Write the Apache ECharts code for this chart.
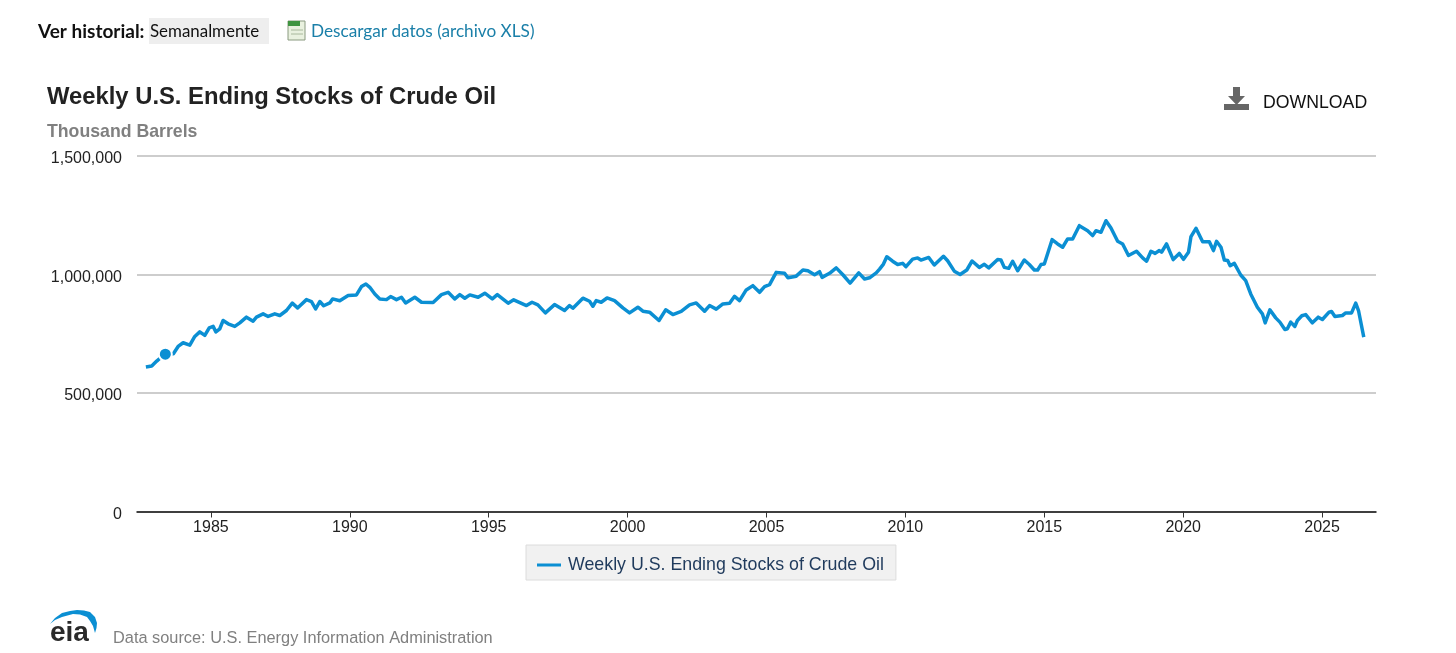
<!DOCTYPE html>
<html><head><meta charset="utf-8">
<style>html,body{margin:0;padding:0;background:#fff}#c{width:1456px;height:653px}</style>
<script src="https://cdn.jsdelivr.net/npm/echarts@6/dist/echarts.min.js"></script>
</head><body><div id="c"></div>
<script>
const seriesName = 'Weekly U.S. Ending Stocks of Crude Oil';
const years = [1982.66,1982.87,1983.05,1983.19,1983.36,1983.65,1983.82,1984.0,1984.24,1984.42,1984.6,1984.78,1984.94,1985.08,1985.18,1985.32,1985.44,1985.62,1985.86,1986.04,1986.28,1986.52,1986.64,1986.88,1987.06,1987.3,1987.48,1987.72,1987.93,1988.12,1988.44,1988.62,1988.77,1988.92,1989.06,1989.28,1989.38,1989.64,1989.94,1990.24,1990.42,1990.58,1990.72,1990.9,1991.08,1991.32,1991.47,1991.68,1991.86,1992.01,1992.34,1992.58,1993.0,1993.3,1993.54,1993.78,1993.96,1994.14,1994.32,1994.62,1994.86,1995.13,1995.31,1995.7,1995.9,1996.36,1996.56,1996.77,1997.04,1997.37,1997.73,1997.91,1998.03,1998.39,1998.63,1998.75,1998.87,1999.05,1999.26,1999.53,1999.83,2000.07,2000.37,2000.55,2000.79,2001.13,2001.37,2001.63,2001.93,2002.23,2002.47,2002.77,2002.95,2003.19,2003.43,2003.67,2003.85,2004.03,2004.27,2004.51,2004.75,2004.93,2005.11,2005.35,2005.65,2005.77,2006.07,2006.31,2006.49,2006.73,2006.91,2007.0,2007.27,2007.51,2007.75,2008.01,2008.32,2008.53,2008.71,2008.95,2009.07,2009.21,2009.33,2009.54,2009.72,2009.9,2010.02,2010.26,2010.44,2010.56,2010.84,2011.04,2011.37,2011.52,2011.76,2011.97,2012.21,2012.4,2012.66,2012.84,2013.0,2013.32,2013.44,2013.56,2013.72,2013.86,2014.04,2014.28,2014.46,2014.64,2014.76,2014.88,2015.0,2015.28,2015.48,2015.66,2015.84,2016.02,2016.26,2016.56,2016.74,2016.86,2017.04,2017.22,2017.4,2017.64,2017.82,2018.03,2018.32,2018.54,2018.68,2018.84,2018.99,2019.14,2019.22,2019.4,2019.64,2019.86,2020.01,2020.19,2020.28,2020.46,2020.52,2020.7,2020.94,2021.09,2021.2,2021.36,2021.48,2021.6,2021.69,2021.84,2022.07,2022.25,2022.43,2022.67,2022.85,2022.95,2023.12,2023.33,2023.48,2023.66,2023.75,2023.87,2024.02,2024.11,2024.27,2024.41,2024.65,2024.86,2025.01,2025.25,2025.34,2025.46,2025.73,2025.85,2026.06,2026.21,2026.31,2026.5];
const stocks = [609600,613800,634800,648800,664000,665700,696500,712000,702000,738600,758000,743000,775000,781000,758000,771000,806000,792000,781000,796000,820000,803000,820000,834000,823000,834000,827000,848000,879000,859000,894000,886000,855000,886000,868000,880000,897000,889000,911000,914000,949000,960000,946000,918000,897000,894000,907000,894000,904000,880000,904000,883000,882000,915000,925000,897000,915000,900000,914000,904000,921000,897000,915000,879000,893000,869000,883000,872000,838000,873000,848000,869000,858000,900000,887000,866000,890000,883000,901000,890000,859000,838000,862000,845000,841000,806000,851000,831000,844000,872000,880000,845000,869000,854000,876000,879000,908000,890000,935000,953000,925000,949000,957000,1009000,1005000,986000,993000,1019000,1016000,999000,1012000,988000,1005000,1028000,999000,964000,1007000,981000,986000,1007000,1023000,1044000,1075000,1056000,1042000,1047000,1033000,1065000,1070000,1061000,1072000,1040000,1077000,1058000,1014000,1000000,1019000,1057000,1030000,1043000,1028000,1063000,1061000,1030000,1026000,1056000,1016000,1061000,1042000,1019000,1019000,1042000,1044000,1147000,1129000,1115000,1150000,1150000,1206000,1185000,1164000,1185000,1178000,1227000,1196000,1140000,1129000,1080000,1098000,1070000,1056000,1098000,1089000,1101000,1094000,1129000,1063000,1089000,1064000,1094000,1160000,1195000,1192000,1138000,1138000,1101000,1140000,1115000,1061000,1059000,1037000,1047000,998000,974000,918000,862000,834000,796000,851000,817000,799000,768000,771000,799000,781000,806000,826000,831000,796000,820000,810000,841000,844000,823000,827000,838000,838000,879000,848000,736000];
const xTicks = [1985,1990,1995,2000,2005,2010,2015,2020,2025];
const yTicks = [0,500000,1000000,1500000];
const highlightIndex = 4;
const BLUE = '#0b8fd3';
const SANS = '"Liberation Sans", Arial, sans-serif';
const HEAD = 'Lato, sans-serif';

const chart = echarts.init(document.getElementById('c'), null, {renderer:'canvas'});
chart.setOption({
  animation:false,
  backgroundColor:'#fff',
  title:{left:47,top:85,padding:0,text:'Weekly U.S. Ending Stocks of Crude Oil',
    textStyle:{fontFamily:SANS,fontSize:23.8,fontWeight:'bold',color:'#222'},
    subtext:'Thousand Barrels',itemGap:14,
    subtextStyle:{fontFamily:SANS,fontSize:17.7,fontWeight:'bold',color:'#808080'}},
  grid:{left:137,right:80,top:156,bottom:141.5},
  xAxis:{type:'value',min:1982.34,max:2026.94,
    splitLine:{show:false},
    axisLine:{show:true,lineStyle:{color:'#111',width:1.5}},
    axisTick:{show:true,length:6,lineStyle:{color:'#333',width:1},customValues:xTicks},
    axisLabel:{customValues:xTicks,formatter:v=>String(v),margin:8,fontFamily:SANS,fontSize:16,color:'#222'}},
  yAxis:{type:'value',min:0,max:1500000,interval:500000,
    axisLine:{show:false},axisTick:{show:false},
    splitLine:{show:true,lineStyle:{color:'#bdbdbd',width:1.5}},
    axisLabel:{margin:15,
      formatter:v=>yTicks.includes(v)?'{a|'+v.toLocaleString('en-US')+'}':'',
      rich:{a:{fontFamily:SANS,fontSize:16,color:'#222',padding:[6,0,0,0]}}}},
  legend:{left:526,top:545,padding:[11,12,6,11],backgroundColor:'#f1f1f1',borderColor:'#dcdcdc',borderWidth:1,
    itemWidth:24,itemHeight:3,itemGap:9,icon:'rect',
    textStyle:{fontFamily:SANS,fontSize:17.8,color:'#1f3a5c',padding:[0,0,0,2]},data:[seriesName]},
  series:[{name:seriesName,type:'line',symbol:'none',smooth:false,
    lineStyle:{color:BLUE,width:3.5,join:'round'},itemStyle:{color:BLUE},
    data:years.map((y,i)=>[y,stocks[i]]),
    markPoint:{silent:true,symbol:'circle',symbolSize:13,
      itemStyle:{color:BLUE,borderColor:'#fff',borderWidth:2},label:{show:false},
      data:[{coord:[years[highlightIndex],stocks[highlightIndex]]}]}}],
  graphic:[
    {type:'text',x:38,y:22,style:{text:'Ver historial:',fontFamily:HEAD,fontSize:19,fontWeight:'bold',fill:'#111'}},
    {type:'rect',shape:{x:149,y:18,width:120,height:26},style:{fill:'#eeeeee'}},
    {type:'text',x:150,y:23,style:{text:'Semanalmente',fontFamily:HEAD,fontSize:16.9,fill:'#111'}},
    {type:'rect',shape:{x:288,y:21,width:17,height:19},style:{fill:'#e9f1df',stroke:'#8a9a80',lineWidth:1}},
    {type:'rect',shape:{x:288,y:21,width:12,height:5},style:{fill:'#3f9440'}},
    {type:'line',shape:{x1:291,y1:30,x2:303,y2:30},style:{stroke:'#a8b89c'}},
    {type:'line',shape:{x1:291,y1:34,x2:303,y2:34},style:{stroke:'#a8b89c'}},
    {type:'text',x:311,y:23,style:{text:'Descargar datos (archivo XLS)',fontFamily:HEAD,fontSize:17.2,fill:'#1a7fa8'}},
    {type:'polygon',shape:{points:[[1233,87],[1240,87],[1240,96],[1245,96],[1236.5,105],[1228,96],[1233,96]]},style:{fill:'#666'}},
    {type:'rect',shape:{x:1224,y:104,width:25,height:6},style:{fill:'#666'}},
    {type:'text',x:1263,y:94,style:{text:'DOWNLOAD',fontFamily:SANS,fontSize:17.7,fill:'#111'}},
    {type:'polygon',shape:{points:[[50,624],[55,618],[62,613],[70,611],[77,610],[84,610.5],[90,612],[95,617],[97,623],[96.5,628],[95,633],[93,626],[90,621],[87,617],[80,614.5],[73,614],[62,617],[55,620]]},style:{fill:'#0b8fd3'}},
    {type:'text',x:50,y:619,style:{text:'eia',fontFamily:SANS,fontSize:28,fontWeight:'bold',fill:'#2a2a2a'}},
    {type:'text',x:113,y:630,style:{text:'Data source: U.S. Energy Information Administration',fontFamily:SANS,fontSize:16.35,fill:'#808080'}}
  ]
});
</script></body></html>
